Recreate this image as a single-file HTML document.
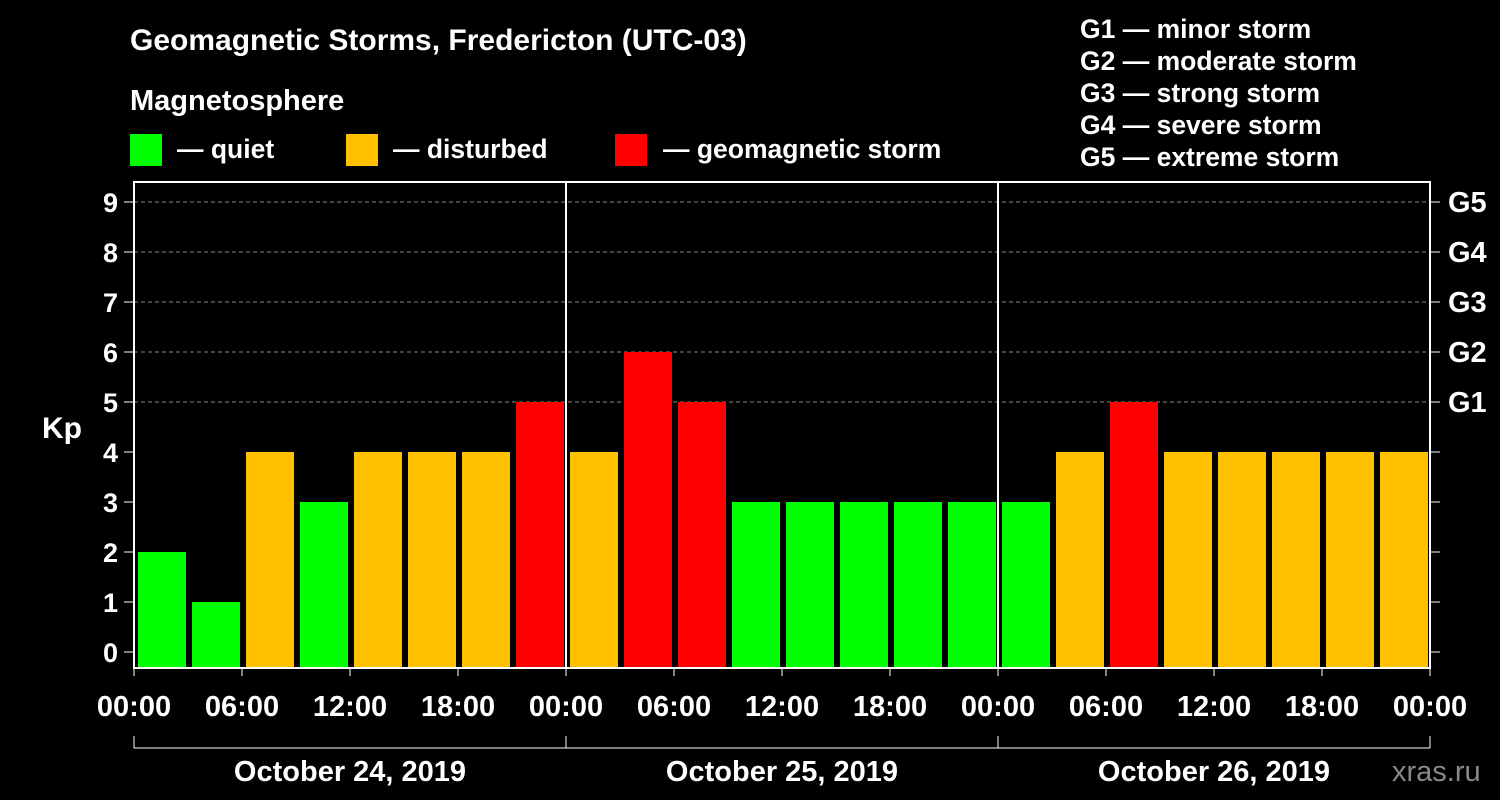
<!DOCTYPE html>
<html><head><meta charset="utf-8"><style>
html,body{margin:0;padding:0;background:#000;}
svg{display:block;font-family:"Liberation Sans",Arial,sans-serif;font-weight:bold;}
</style></head><body>
<svg id="c" width="1500" height="800" viewBox="0 0 1500 800">
<rect width="1500" height="800" fill="#000"/>
<text x="130" y="50" fill="#fff" font-size="30">Geomagnetic Storms, Fredericton (UTC-03)</text>
<text x="130" y="110" fill="#fff" font-size="29">Magnetosphere</text>
<g><rect x="130" y="134" width="32" height="32" fill="#00ff00"/><text x="177" y="158" fill="#fff" font-size="26.5">— quiet</text></g>
<g><rect x="346" y="134" width="32" height="32" fill="#ffc000"/><text x="393" y="158" fill="#fff" font-size="26.5">— disturbed</text></g>
<g><rect x="615" y="134" width="32" height="32" fill="#ff0000"/><text x="663" y="158" fill="#fff" font-size="26.5">— geomagnetic storm</text></g>
<g fill="#fff" font-size="26.5">
<text x="1080" y="38">G1 — minor storm</text><text x="1080" y="70">G2 — moderate storm</text><text x="1080" y="102">G3 — strong storm</text><text x="1080" y="134">G4 — severe storm</text><text x="1080" y="166">G5 — extreme storm</text></g>
<text x="42" y="438" fill="#fff" font-size="30">Kp</text>
<text x="1392" y="781" fill="#888" font-size="29" font-weight="normal">xras.ru</text>
<g id="grid"></g><g id="bars"></g><g id="axes"></g>
</svg>
<script>
const kpValues=[2,1,4,3,4,4,4,5, 4,6,5,3,3,3,3,3, 3,4,5,4,4,4,4,4];
const yTicks=[0,1,2,3,4,5,6,7,8,9];
const gLabels=["G1","G2","G3","G4","G5"];
const xTickLabels=["00:00","06:00","12:00","18:00","00:00","06:00","12:00","18:00","00:00","06:00","12:00","18:00","00:00"];
const dayLabels=["October 24, 2019","October 25, 2019","October 26, 2019"];
const NS="http://www.w3.org/2000/svg";
const px0=134,px1=1430,yTop=182,yBot=668;
const slot=(px1-px0)/kpValues.length;
const X=i=>px0+i*slot;
const Y=v=>652-50*v;
function mk(p,t,a){const e=document.createElementNS(NS,t);for(const k in a)e.setAttribute(k,a[k]);p.appendChild(e);return e;}
const grid=document.getElementById('grid'),bars=document.getElementById('bars'),axes=document.getElementById('axes');
yTicks.forEach(v=>{if(v>=5){const l=mk(grid,'line',{x1:px0,x2:px1,y1:Y(v),y2:Y(v),stroke:'#888','stroke-dasharray':'4,3','stroke-width':1});

}});
kpValues.forEach((v,i)=>{const c=v>=5?'#ff0000':(v>=4?'#ffc000':'#00ff00');
const r=mk(bars,'rect',{x:X(i)+4,y:Y(v),width:slot-6,height:yBot-Y(v),fill:c});

});
const f=mk(axes,'rect',{x:px0,y:yTop,width:px1-px0,height:yBot-yTop,fill:'none',stroke:'#fff','stroke-width':2});


[1,2].forEach(d=>{const l=mk(axes,'line',{x1:X(d*8),x2:X(d*8),y1:yTop,y2:yBot,stroke:'#fff','stroke-width':2});

});
yTicks.forEach(v=>{mk(axes,'line',{x1:px0-10,x2:px0,y1:Y(v),y2:Y(v),stroke:'#fff','stroke-width':1});
mk(axes,'line',{x1:px1,x2:px1+10,y1:Y(v),y2:Y(v),stroke:'#fff','stroke-width':1});
const t=mk(axes,'text',{x:px0-16,y:Y(v)+10,fill:'#fff','font-size':27,'text-anchor':'end'});t.textContent=v;

});
gLabels.forEach((g,i)=>{const t=mk(axes,'text',{x:1448,y:Y(5+i)+10,fill:'#fff','font-size':29});t.textContent=g;

});
xTickLabels.forEach((s,i)=>{const x=X(i*2);mk(axes,'line',{x1:x,x2:x,y1:yBot,y2:yBot+8,stroke:'#fff'});
const t=mk(axes,'text',{x:x,y:716,fill:'#fff','font-size':29,'text-anchor':'middle'});t.textContent=s;

});
const b=mk(axes,'line',{x1:px0,x2:px1,y1:748,y2:748,stroke:'#fff','stroke-width':1});


[0,1,2,3].forEach(d=>mk(axes,'line',{x1:X(d*8),x2:X(d*8),y1:736,y2:748,stroke:'#fff'}));
dayLabels.forEach((s,d)=>{const t=mk(axes,'text',{x:(X(d*8)+X(d*8+8))/2,y:781,fill:'#fff','font-size':29,'text-anchor':'middle'});t.textContent=s;

});
</script>
</body></html>
